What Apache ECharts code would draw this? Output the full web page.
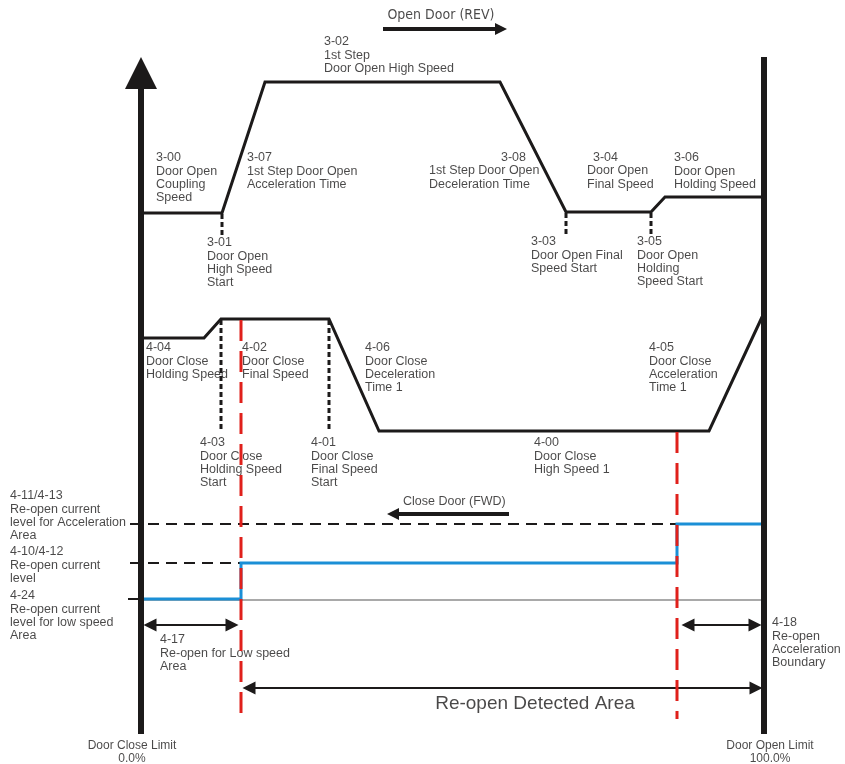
<!DOCTYPE html>
<html>
<head>
<meta charset="utf-8">
<script src="https://cdn.jsdelivr.net/npm/echarts@6/dist/echarts.min.js"></script>
<style>
  html, body { margin: 0; padding: 0; background: #fff; }
  #chart { width: 845px; height: 764px; }
</style>
</head>
<body>
<div id="chart"></div>
<script>
  // diagram geometry, in screen-like units (x: door travel, y: level, top down)
  var openProfile = [[141, 213], [222, 213], [265, 82], [500, 82], [566, 212], [651, 212], [665, 197], [763, 197]]
  var closeProfile = [[141, 338], [204, 338], [221, 319], [329, 319], [379, 431], [709, 431], [763, 315]]
  var reopenCurrent = [[141, 599], [241, 599], [241, 563], [677, 563], [677, 524], [763, 524]]
  var lowLevel = [[141, 600], [763, 600]]
  var lowTick = [[128, 599], [141, 599]]
  var accelLevel = [[130, 524], [677, 524]]
  var reopenLevel = [[130, 563], [241, 563]]
  var rightAxis = [[764, 57], [764, 734]]
  var startMarks = [
    [[222, 214], [222, 236]],
    [[566, 213], [566, 236]],
    [[651, 213], [651, 236]]
  ]
  var closeMarks = [
    [[221, 320], [221, 432]],
    [[329, 320], [329, 432]]
  ]
  var redMarks = [
    [[241, 320], [241, 714]],
    [[677, 432], [677, 719]]
  ]
  var axisArrow = [[[141, 734], [141, 73]]]
  var oneWayArrows = [
    [[383, 29], [501, 29]],
    [[509, 514], [393, 514]]
  ]
  var twoWayArrows = [
    [[150, 625], [232, 625]],
    [[688, 625], [755, 625]],
    [[249, 688], [756, 688]]
  ]
  // [x, y of first line, text]
  var leftLabels = [
    [324, 42, '3-02\n1st Step\nDoor Open High Speed'],
    [156, 158, '3-00\nDoor Open\nCoupling\nSpeed'],
    [247, 158, '3-07\n1st Step Door Open\nAcceleration Time'],
    [207, 243, '3-01\nDoor Open\nHigh Speed\nStart'],
    [501, 158, '3-08'],
    [429, 171, '1st Step Door Open\nDeceleration Time'],
    [593, 158, '3-04'],
    [587, 171, 'Door Open\nFinal Speed'],
    [674, 158, '3-06\nDoor Open\nHolding Speed'],
    [531, 242, '3-03\nDoor Open Final\nSpeed Start'],
    [637, 242, '3-05\nDoor Open\nHolding\nSpeed Start'],
    [146, 348, '4-04\nDoor Close\nHolding Speed'],
    [242, 348, '4-02\nDoor Close\nFinal Speed'],
    [365, 348, '4-06\nDoor Close\nDeceleration\nTime 1'],
    [200, 443, '4-03\nDoor Close\nHolding Speed\nStart'],
    [311, 443, '4-01\nDoor Close\nFinal Speed\nStart'],
    [649, 348, '4-05\nDoor Close\nAcceleration\nTime 1'],
    [534, 443, '4-00\nDoor Close\nHigh Speed 1'],
    [403, 502, 'Close Door (FWD)'],
    [10, 496, '4-11/4-13\nRe-open current\nlevel for Acceleration\nArea'],
    [10, 552, '4-10/4-12\nRe-open current\nlevel'],
    [10, 596, '4-24\nRe-open current\nlevel for low speed\nArea'],
    [160, 640, '4-17\nRe-open for Low speed\nArea'],
    [772, 623, '4-18\nRe-open\nAcceleration\nBoundary']
  ]
  // [center x, y of first line, text, font size, narrow]
  var centerLabels = [
    [441, 15, 'Open Door (REV)', 14, true],
    [132, 746, 'Door Close Limit\n0.0%', 12, false],
    [770, 746, 'Door Open Limit\n100.0%', 12, false],
    [535, 704, 'Re-open Detected Area', 19, false]
  ]

  var ink = '#1c1a1a'
  var lh = 13.3
  var sans = '"Liberation Sans", Arial, sans-serif'
  var narrow = '"Liberation Sans Narrow", "DejaVu Sans Condensed", "Liberation Sans", sans-serif'

  function path (data, color, width, dash, z) {
    return {
      type: 'line',
      data: data,
      symbol: 'none',
      silent: true,
      animation: false,
      z: z || 3,
      lineStyle: {color: color, width: width, type: dash || 'solid', cap: 'butt', join: 'miter'}
    }
  }

  function arrows (data, width, size, both) {
    return {
      type: 'lines',
      coordinateSystem: 'cartesian2d',
      silent: true,
      animation: false,
      z: 4,
      symbol: both ? ['triangle', 'triangle'] : ['none', 'triangle'],
      symbolSize: size,
      itemStyle: {color: ink},
      lineStyle: {color: ink, width: width, opacity: 1, curveness: 0},
      data: data.map(function (c) { return {coords: c} })
    }
  }

  var series = [
    path(lowLevel, '#8c8c8c', 1.5, 'solid', 2),
    path(accelLevel, ink, 2, [11, 7], 2),
    path(reopenLevel, ink, 2, [11, 7], 2),
    path(lowTick, ink, 2),
    path(reopenCurrent, '#1b8fd6', 3, 'solid', 3),
    path(openProfile, ink, 3),
    path(closeProfile, ink, 3),
    path(rightAxis, ink, 6, 'solid', 5)
  ]
  startMarks.forEach(function (m) { series.push(path(m, ink, 3, [5, 3])) })
  closeMarks.forEach(function (m) { series.push(path(m, ink, 3, [5, 3])) })
  redMarks.forEach(function (m) { series.push(path(m, '#e0201b', 3, [21, 10], 4)) })
  series.push(arrows(axisArrow, 6, 32, false))
  series.push(arrows(oneWayArrows, 4, 12, false))
  series.push(arrows(twoWayArrows, 2, 13, true))

  series.push({
    type: 'scatter',
    silent: true,
    animation: false,
    z: 1,
    symbolSize: 1,
    itemStyle: {color: 'rgba(0,0,0,0)'},
    label: {
      show: true,
      position: 'inside',
      align: 'left',
      verticalAlign: 'top',
      color: ink,
      fontFamily: sans,
      fontSize: 12.5,
      lineHeight: lh,
      formatter: function (p) { return p.data.text }
    },
    data: leftLabels.map(function (l) {
      return {value: [l[0], l[1] - lh / 2], text: l[2]}
    })
  })
  series.push({
    type: 'scatter',
    silent: true,
    animation: false,
    z: 1,
    symbolSize: 1,
    itemStyle: {color: 'rgba(0,0,0,0)'},
    label: {
      show: true,
      position: 'inside',
      align: 'center',
      verticalAlign: 'top',
      color: ink,
      formatter: function (p) { return p.data.text }
    },
    data: centerLabels.map(function (l) {
      var lineH = Math.max(l[3] * 1.05, 13)
      return {
        value: [l[0], l[1] - lineH / 2],
        text: l[2],
        label: {fontSize: l[3], lineHeight: lineH, fontFamily: l[4] ? narrow : sans}
      }
    })
  })

  var option = {
    backgroundColor: '#fff',
    animation: false,
    grid: {left: 0, right: 0, top: 0, bottom: 0},
    xAxis: {type: 'value', min: 0, max: 845, show: false},
    yAxis: {type: 'value', min: 0, max: 764, inverse: true, show: false},
    series: series
  }

  var chart = echarts.init(document.getElementById('chart'))
  chart.setOption(option)
  window.addEventListener('resize', function () {
    chart.resize()
  })
</script>
</body>
</html>
